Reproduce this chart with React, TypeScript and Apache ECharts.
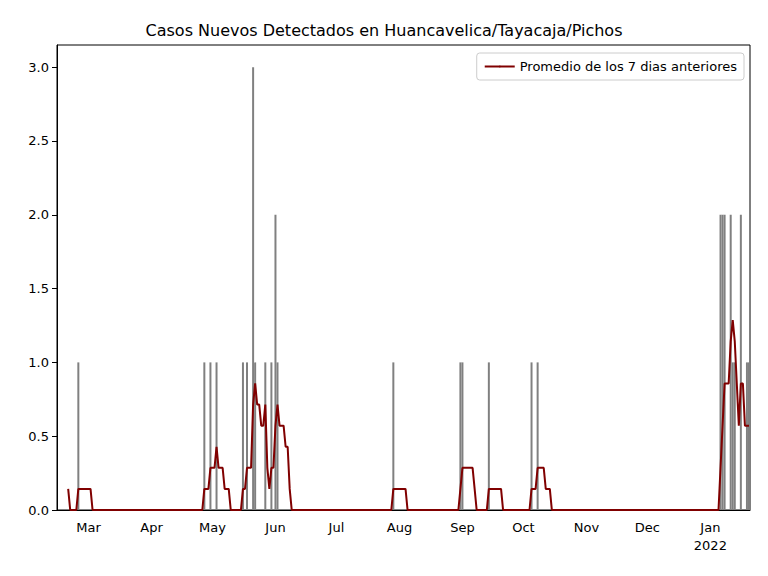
import React, { useEffect, useRef } from 'react';
import * as echarts from 'echarts';

// day 0 = 2021-02-14, last day = 2022-01-20
const START = Date.UTC(2021, 1, 14);
const DAYS = 341;
const MONTHS = ['Jan', 'Feb', 'Mar', 'Apr', 'May', 'Jun', 'Jul', 'Aug', 'Sep', 'Oct', 'Nov', 'Dec'];

// [day index, new cases]
const caseDays: [number, number][] = [
  [-1, 1], [10, 1],
  [72, 1], [75, 1], [78, 1],
  [91, 1], [93, 1], [96, 3], [97, 1], [102, 1], [105, 1], [107, 2], [108, 1],
  [165, 1], [198, 1], [199, 1], [212, 1], [233, 1], [236, 1],
  [326, 2], [327, 2], [328, 2], [331, 2], [332, 1], [333, 1], [336, 2], [339, 1], [340, 1],
];
const LINE_START = 5;
const legendName = 'Promedio de los 7 dias anteriores';

const App: React.FC = () => {
  const ref = useRef<HTMLDivElement>(null);

  useEffect(() => {
    if (!ref.current) return;
    const chart = echarts.init(ref.current, undefined, { renderer: 'svg' });

    const counts = new Map<number, number>(caseDays);
    const cats: string[] = [];
    const bars: number[] = [];
    const avg: (number | null)[] = [];
    for (let d = 0; d < DAYS; d++) {
      const dt = new Date(START + d * 86400000);
      cats.push(`${dt.getUTCFullYear()}-${dt.getUTCMonth()}-${dt.getUTCDate()}`);
      bars.push(counts.get(d) || 0);
      let s = 0;
      for (let k = d - 6; k <= d; k++) s += counts.get(k) || 0;
      avg.push(d >= LINE_START ? s / 7 : null);
    }
    const isMonthStart = (i: number) => new Date(START + i * 86400000).getUTCDate() === 1;

    chart.setOption({
      animation: false,
      textStyle: { fontFamily: 'DejaVu Sans' },
      title: {
        text: 'Casos Nuevos Detectados en Huancavelica/Tayacaja/Pichos',
        left: 'center', top: 9,
        textStyle: { fontSize: 16, fontWeight: 'normal', color: '#000' },
      },
      legend: {
        data: [legendName], right: 16, top: 45,
        itemWidth: 30, itemHeight: 2, padding: [7, 7],
        borderColor: '#ccc', borderWidth: 1, borderRadius: 3,
        textStyle: { fontSize: 13, color: '#000' },
      },
      grid: { left: 49, right: 10, top: 37, bottom: 58, show: true, borderColor: '#000', borderWidth: 1 },
      xAxis: {
        type: 'category', data: cats, boundaryGap: true,
        axisLine: { lineStyle: { color: '#000' } },
        axisTick: { interval: (i: number) => isMonthStart(i), length: 5, lineStyle: { color: '#000' } },
        axisLabel: {
          interval: (i: number) => isMonthStart(i),
          color: '#000', fontSize: 13, lineHeight: 18,
          formatter: (v: string) => {
            const [y, m] = v.split('-').map(Number);
            return m === 0 ? `${MONTHS[m]}\n${y}` : MONTHS[m];
          },
        },
        splitLine: { show: false },
      },
      yAxis: {
        type: 'value', min: 0, max: 3.15, interval: 0.5,
        axisLine: { show: true, lineStyle: { color: '#000' } },
        axisTick: { show: true, length: 5, lineStyle: { color: '#000' } },
        axisLabel: { color: '#000', fontSize: 13, showMaxLabel: false, formatter: (v: number) => v.toFixed(1) },
        splitLine: { show: false },
      },
      series: [
        {
          type: 'bar', data: bars, barWidth: 2,
          itemStyle: { color: '#808080' },
        },
        {
          name: legendName, type: 'line', data: avg,
          symbol: 'none', connectNulls: false,
          lineStyle: { color: '#800000', width: 2 },
          itemStyle: { color: '#800000' },
        },
      ],
    });
    return () => chart.dispose();
  }, []);

  return <div ref={ref} style={{ width: 752, height: 560 }} />;
};

export default App;
